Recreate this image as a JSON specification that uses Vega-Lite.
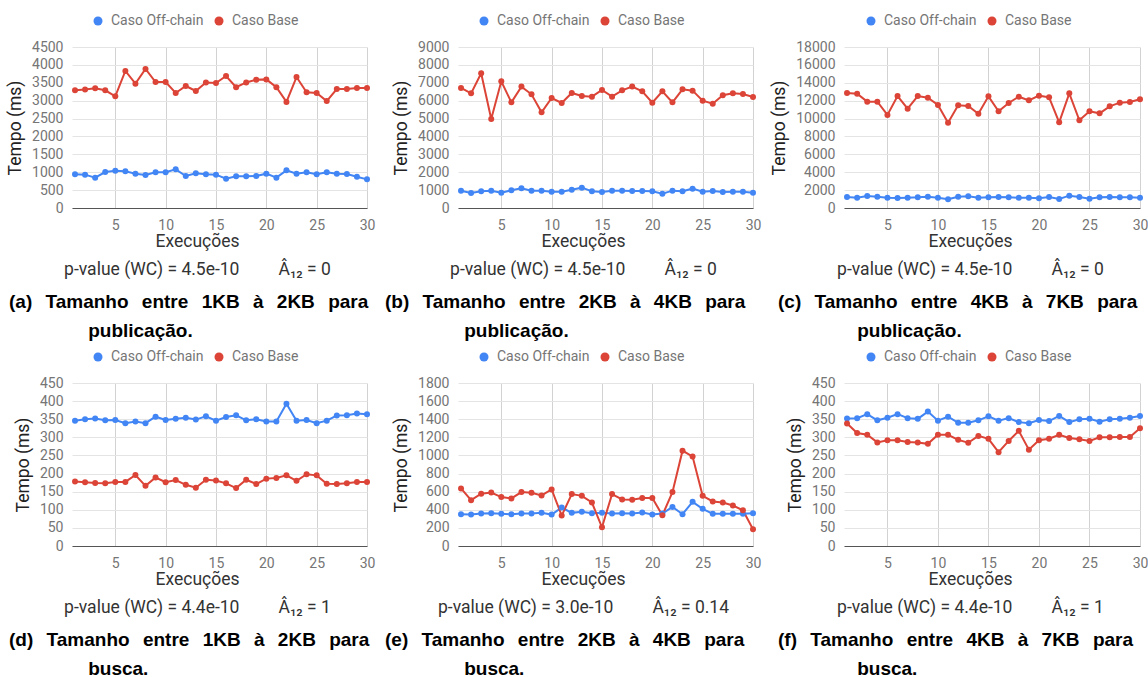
{
  "$schema": "https://vega.github.io/schema/vega-lite/v6.json",
  "background": "white",
  "padding": {"left": 6, "top": 14, "right": 0, "bottom": 0},
  "config": {
    "view": {"stroke": null},
    "font": "Roboto",
    "axis": {"labelFont": "Roboto", "labelFontSize": 14, "labelColor": "#757575", "titleFont": "Roboto", "titleFontSize": 17.5, "titleFontWeight": "normal", "titleColor": "#222222", "ticks": false, "domain": false, "gridColor": "#e4e4e4", "format": "d"},
    "axisX": {"domain": true, "domainColor": "#555555", "gridColor": "#d2d2d2", "labelPadding": 10, "titlePadding": 0, "labelFlush": false, "titleLineHeight": 28, "titleColor": "#333333"},
    "axisY": {"labelPadding": 9, "titlePadding": 7},
    "legend": {"orient": "none", "direction": "horizontal", "symbolType": "circle", "symbolSize": 81, "symbolStrokeWidth": 0, "labelFont": "Roboto", "labelFontSize": 14, "labelColor": "#757575", "columnPadding": 8, "labelOffset": 6},
    "title": {"orient": "bottom", "frame": "group", "anchor": "start", "font": "Liberation Sans", "fontWeight": "bold", "fontSize": 19, "color": "#000000", "lineHeight": 29, "offset": 15}
  },
  "datasets": {
    "a": [
      {"e":1,"Caso Off-chain":941,"Caso Base":3290},{"e":2,"Caso Off-chain":932,"Caso Base":3310},{"e":3,"Caso Off-chain":848,"Caso Base":3345},{"e":4,"Caso Off-chain":1006,"Caso Base":3290},{"e":5,"Caso Off-chain":1043,"Caso Base":3120},{"e":6,"Caso Off-chain":1025,"Caso Base":3830},{"e":7,"Caso Off-chain":960,"Caso Base":3475},{"e":8,"Caso Off-chain":922,"Caso Base":3885},{"e":9,"Caso Off-chain":997,"Caso Base":3520},{"e":10,"Caso Off-chain":997,"Caso Base":3520},
      {"e":11,"Caso Off-chain":1081,"Caso Base":3215},{"e":12,"Caso Off-chain":894,"Caso Base":3410},{"e":13,"Caso Off-chain":969,"Caso Base":3270},{"e":14,"Caso Off-chain":941,"Caso Base":3505},{"e":15,"Caso Off-chain":932,"Caso Base":3495},{"e":16,"Caso Off-chain":820,"Caso Base":3690},{"e":17,"Caso Off-chain":885,"Caso Base":3375},{"e":18,"Caso Off-chain":885,"Caso Base":3510},{"e":19,"Caso Off-chain":894,"Caso Base":3585},{"e":20,"Caso Off-chain":960,"Caso Base":3595},
      {"e":21,"Caso Off-chain":848,"Caso Base":3375},{"e":22,"Caso Off-chain":1053,"Caso Base":2965},{"e":23,"Caso Off-chain":960,"Caso Base":3660},{"e":24,"Caso Off-chain":997,"Caso Base":3235},{"e":25,"Caso Off-chain":941,"Caso Base":3215},{"e":26,"Caso Off-chain":997,"Caso Base":2990},{"e":27,"Caso Off-chain":960,"Caso Base":3325},{"e":28,"Caso Off-chain":950,"Caso Base":3325},{"e":29,"Caso Off-chain":876,"Caso Base":3355},{"e":30,"Caso Off-chain":801,"Caso Base":3355}
    ],
    "b": [
      {"e":1,"Caso Off-chain":969,"Caso Base":6710},{"e":2,"Caso Off-chain":839,"Caso Base":6410},{"e":3,"Caso Off-chain":932,"Caso Base":7530},{"e":4,"Caso Off-chain":969,"Caso Base":4975},{"e":5,"Caso Off-chain":857,"Caso Base":7080},{"e":6,"Caso Off-chain":988,"Caso Base":5905},{"e":7,"Caso Off-chain":1099,"Caso Base":6785},{"e":8,"Caso Off-chain":969,"Caso Base":6355},{"e":9,"Caso Off-chain":969,"Caso Base":5350},{"e":10,"Caso Off-chain":913,"Caso Base":6150},
      {"e":11,"Caso Off-chain":913,"Caso Base":5870},{"e":12,"Caso Off-chain":1025,"Caso Base":6430},{"e":13,"Caso Off-chain":1137,"Caso Base":6260},{"e":14,"Caso Off-chain":932,"Caso Base":6225},{"e":15,"Caso Off-chain":894,"Caso Base":6595},{"e":16,"Caso Off-chain":969,"Caso Base":6225},{"e":17,"Caso Off-chain":969,"Caso Base":6580},{"e":18,"Caso Off-chain":950,"Caso Base":6785},{"e":19,"Caso Off-chain":950,"Caso Base":6520},{"e":20,"Caso Off-chain":932,"Caso Base":5890},
      {"e":21,"Caso Off-chain":801,"Caso Base":6520},{"e":22,"Caso Off-chain":969,"Caso Base":5905},{"e":23,"Caso Off-chain":932,"Caso Base":6635},{"e":24,"Caso Off-chain":1081,"Caso Base":6560},{"e":25,"Caso Off-chain":913,"Caso Base":6000},{"e":26,"Caso Off-chain":950,"Caso Base":5830},{"e":27,"Caso Off-chain":894,"Caso Base":6300},{"e":28,"Caso Off-chain":913,"Caso Base":6410},{"e":29,"Caso Off-chain":913,"Caso Base":6375},{"e":30,"Caso Off-chain":857,"Caso Base":6205}
    ],
    "c": [
      {"e":1,"Caso Off-chain":1230,"Caso Base":12855},{"e":2,"Caso Off-chain":1155,"Caso Base":12785},{"e":3,"Caso Off-chain":1340,"Caso Base":11890},{"e":4,"Caso Off-chain":1265,"Caso Base":11890},{"e":5,"Caso Off-chain":1155,"Caso Base":10400},{"e":6,"Caso Off-chain":1120,"Caso Base":12520},{"e":7,"Caso Off-chain":1155,"Caso Base":11105},{"e":8,"Caso Off-chain":1195,"Caso Base":12520},{"e":9,"Caso Off-chain":1265,"Caso Base":12335},{"e":10,"Caso Off-chain":1155,"Caso Base":11515},
      {"e":11,"Caso Off-chain":970,"Caso Base":9540},{"e":12,"Caso Off-chain":1265,"Caso Base":11480},{"e":13,"Caso Off-chain":1305,"Caso Base":11405},{"e":14,"Caso Off-chain":1155,"Caso Base":10545},{"e":15,"Caso Off-chain":1195,"Caso Base":12485},{"e":16,"Caso Off-chain":1230,"Caso Base":10810},{"e":17,"Caso Off-chain":1195,"Caso Base":11740},{"e":18,"Caso Off-chain":1155,"Caso Base":12445},{"e":19,"Caso Off-chain":1155,"Caso Base":12035},{"e":20,"Caso Off-chain":1080,"Caso Base":12560},
      {"e":21,"Caso Off-chain":1230,"Caso Base":12375},{"e":22,"Caso Off-chain":1005,"Caso Base":9580},{"e":23,"Caso Off-chain":1380,"Caso Base":12820},{"e":24,"Caso Off-chain":1230,"Caso Base":9800},{"e":25,"Caso Off-chain":1045,"Caso Base":10810},{"e":26,"Caso Off-chain":1195,"Caso Base":10585},{"e":27,"Caso Off-chain":1230,"Caso Base":11365},{"e":28,"Caso Off-chain":1195,"Caso Base":11775},{"e":29,"Caso Off-chain":1195,"Caso Base":11850},{"e":30,"Caso Off-chain":1155,"Caso Base":12150}
    ],
    "d": [
      {"e":1,"Caso Off-chain":346,"Caso Base":178},{"e":2,"Caso Off-chain":350,"Caso Base":176},{"e":3,"Caso Off-chain":352,"Caso Base":174},{"e":4,"Caso Off-chain":347,"Caso Base":173},{"e":5,"Caso Off-chain":348,"Caso Base":177},{"e":6,"Caso Off-chain":339,"Caso Base":177},{"e":7,"Caso Off-chain":344,"Caso Base":196},{"e":8,"Caso Off-chain":339,"Caso Base":166},{"e":9,"Caso Off-chain":357,"Caso Base":189},{"e":10,"Caso Off-chain":348,"Caso Base":176},
      {"e":11,"Caso Off-chain":351,"Caso Base":182},{"e":12,"Caso Off-chain":354,"Caso Base":169},{"e":13,"Caso Off-chain":349,"Caso Base":161},{"e":14,"Caso Off-chain":358,"Caso Base":183},{"e":15,"Caso Off-chain":346,"Caso Base":181},{"e":16,"Caso Off-chain":356,"Caso Base":173},{"e":17,"Caso Off-chain":361,"Caso Base":160},{"e":18,"Caso Off-chain":347,"Caso Base":183},{"e":19,"Caso Off-chain":350,"Caso Base":171},{"e":20,"Caso Off-chain":344,"Caso Base":186},
      {"e":21,"Caso Off-chain":344,"Caso Base":188},{"e":22,"Caso Off-chain":393,"Caso Base":195},{"e":23,"Caso Off-chain":346,"Caso Base":180},{"e":24,"Caso Off-chain":348,"Caso Base":198},{"e":25,"Caso Off-chain":339,"Caso Base":195},{"e":26,"Caso Off-chain":346,"Caso Base":172},{"e":27,"Caso Off-chain":360,"Caso Base":171},{"e":28,"Caso Off-chain":361,"Caso Base":173},{"e":29,"Caso Off-chain":366,"Caso Base":177},{"e":30,"Caso Off-chain":364,"Caso Base":177}
    ],
    "e": [
      {"e":1,"Caso Off-chain":351,"Caso Base":636},{"e":2,"Caso Off-chain":347,"Caso Base":506},{"e":3,"Caso Off-chain":359,"Caso Base":577},{"e":4,"Caso Off-chain":362,"Caso Base":591},{"e":5,"Caso Off-chain":355,"Caso Base":540},{"e":6,"Caso Off-chain":351,"Caso Base":525},{"e":7,"Caso Off-chain":359,"Caso Base":595},{"e":8,"Caso Off-chain":359,"Caso Base":588},{"e":9,"Caso Off-chain":366,"Caso Base":558},{"e":10,"Caso Off-chain":347,"Caso Base":625},
      {"e":11,"Caso Off-chain":425,"Caso Base":336},{"e":12,"Caso Off-chain":366,"Caso Base":573},{"e":13,"Caso Off-chain":377,"Caso Base":554},{"e":14,"Caso Off-chain":362,"Caso Base":480},{"e":15,"Caso Off-chain":366,"Caso Base":207},{"e":16,"Caso Off-chain":359,"Caso Base":573},{"e":17,"Caso Off-chain":362,"Caso Base":514},{"e":18,"Caso Off-chain":359,"Caso Base":510},{"e":19,"Caso Off-chain":370,"Caso Base":529},{"e":20,"Caso Off-chain":347,"Caso Base":529},
      {"e":21,"Caso Off-chain":359,"Caso Base":340},{"e":22,"Caso Off-chain":432,"Caso Base":595},{"e":23,"Caso Off-chain":351,"Caso Base":1053},{"e":24,"Caso Off-chain":488,"Caso Base":987},{"e":25,"Caso Off-chain":410,"Caso Base":554},{"e":26,"Caso Off-chain":355,"Caso Base":492},{"e":27,"Caso Off-chain":355,"Caso Base":480},{"e":28,"Caso Off-chain":355,"Caso Base":447},{"e":29,"Caso Off-chain":355,"Caso Base":395},{"e":30,"Caso Off-chain":362,"Caso Base":185}
    ],
    "f": [
      {"e":1,"Caso Off-chain":352,"Caso Base":338},{"e":2,"Caso Off-chain":353,"Caso Base":312},{"e":3,"Caso Off-chain":364,"Caso Base":307},{"e":4,"Caso Off-chain":347,"Caso Base":286},{"e":5,"Caso Off-chain":354,"Caso Base":292},{"e":6,"Caso Off-chain":364,"Caso Base":292},{"e":7,"Caso Off-chain":353,"Caso Base":287},{"e":8,"Caso Off-chain":351,"Caso Base":286},{"e":9,"Caso Off-chain":371,"Caso Base":282},{"e":10,"Caso Off-chain":346,"Caso Base":307},
      {"e":11,"Caso Off-chain":357,"Caso Base":307},{"e":12,"Caso Off-chain":340,"Caso Base":293},{"e":13,"Caso Off-chain":340,"Caso Base":285},{"e":14,"Caso Off-chain":347,"Caso Base":304},{"e":15,"Caso Off-chain":358,"Caso Base":296},{"e":16,"Caso Off-chain":346,"Caso Base":259},{"e":17,"Caso Off-chain":353,"Caso Base":290},{"e":18,"Caso Off-chain":342,"Caso Base":318},{"e":19,"Caso Off-chain":339,"Caso Base":266},{"e":20,"Caso Off-chain":348,"Caso Base":292},
      {"e":21,"Caso Off-chain":345,"Caso Base":296},{"e":22,"Caso Off-chain":359,"Caso Base":307},{"e":23,"Caso Off-chain":342,"Caso Base":298},{"e":24,"Caso Off-chain":350,"Caso Base":295},{"e":25,"Caso Off-chain":351,"Caso Base":290},{"e":26,"Caso Off-chain":343,"Caso Base":300},{"e":27,"Caso Off-chain":350,"Caso Base":300},{"e":28,"Caso Off-chain":351,"Caso Base":301},{"e":29,"Caso Off-chain":354,"Caso Base":301},{"e":30,"Caso Off-chain":359,"Caso Base":325}
    ]
  },
  "resolve": {"scale": {"color": "independent", "stroke": "independent"}, "legend": {"color": "independent"}},
  "columns": 3,
  "bounds": "flush",
  "spacing": {"row": 175, "column": 91},
  "concat": [
    {
      "width": 295, "height": 161,
      "data": {"name": "a"},
      "transform": [{"fold": ["Caso Off-chain", "Caso Base"], "as": ["serie", "tempo"]}],
      "title": {"text": ["(a)\u2002\u2009Tamanho\u2002\u2009entre\u2002\u20091KB\u2002\u2009\u00e0\u2002\u20092KB\u2002\u2009para", "\u200b\u00a0\u00a0\u00a0\u00a0\u00a0\u00a0\u00a0\u00a0\u00a0\u00a0\u00a0\u00a0\u00a0\u00a0\u00a0publica\u00e7\u00e3o."], "dx": -63},
      "encoding": {
        "x": {"field": "e", "type": "quantitative", "scale": {"domain": [0.7, 30], "nice": false, "zero": false}, "axis": {"values": [5, 10, 15, 20, 25, 30], "title": ["Execu\u00e7\u00f5es", "p-value (WC) = 4.5e-10\u00a0\u00a0\u00a0\u00a0\u00a0\u00a0\u00a0\u00a0\u00a0\u00c2\u2081\u2082 = 0"], "titleX": 125}},
        "y": {"field": "tempo", "type": "quantitative", "scale": {"domain": [0, 4500], "nice": false}, "axis": {"values": [0, 500, 1000, 1500, 2000, 2500, 3000, 3500, 4000, 4500], "title": "Tempo (ms)"}}
      },
      "layer": [
        {"mark": {"type": "line", "strokeWidth": 2}, "encoding": {"stroke": {"field": "serie", "type": "nominal", "scale": {"domain": ["Caso Base", "Caso Off-chain"], "range": ["#DB4437", "#4285F4"]}, "legend": null}}},
        {"mark": {"type": "point", "filled": true, "size": 36, "opacity": 1}, "encoding": {"color": {"field": "serie", "type": "nominal", "scale": {"domain": ["Caso Off-chain", "Caso Base"], "range": ["#4285F4", "#DB4437"]}, "legend": {"title": null, "legendX": 19, "legendY": -33}}}}
      ]
    },
    {
      "width": 295, "height": 161,
      "data": {"name": "b"},
      "transform": [{"fold": ["Caso Off-chain", "Caso Base"], "as": ["serie", "tempo"]}],
      "title": {"text": ["(b)\u2002\u2009Tamanho\u2002\u2009entre\u2002\u20092KB\u2002\u2009\u00e0\u2002\u20094KB\u2002\u2009para", "\u200b\u00a0\u00a0\u00a0\u00a0\u00a0\u00a0\u00a0\u00a0\u00a0\u00a0\u00a0\u00a0\u00a0\u00a0\u00a0publica\u00e7\u00e3o."], "dx": -73},
      "encoding": {
        "x": {"field": "e", "type": "quantitative", "scale": {"domain": [0.7, 30], "nice": false, "zero": false}, "axis": {"values": [5, 10, 15, 20, 25, 30], "title": ["Execu\u00e7\u00f5es", "p-value (WC) = 4.5e-10\u00a0\u00a0\u00a0\u00a0\u00a0\u00a0\u00a0\u00a0\u00a0\u00c2\u2081\u2082 = 0"], "titleX": 125}},
        "y": {"field": "tempo", "type": "quantitative", "scale": {"domain": [0, 9000], "nice": false}, "axis": {"values": [0, 1000, 2000, 3000, 4000, 5000, 6000, 7000, 8000, 9000], "title": "Tempo (ms)"}}
      },
      "layer": [
        {"mark": {"type": "line", "strokeWidth": 2}, "encoding": {"stroke": {"field": "serie", "type": "nominal", "scale": {"domain": ["Caso Base", "Caso Off-chain"], "range": ["#DB4437", "#4285F4"]}, "legend": null}}},
        {"mark": {"type": "point", "filled": true, "size": 36, "opacity": 1}, "encoding": {"color": {"field": "serie", "type": "nominal", "scale": {"domain": ["Caso Off-chain", "Caso Base"], "range": ["#4285F4", "#DB4437"]}, "legend": {"title": null, "legendX": 19, "legendY": -33}}}}
      ]
    },
    {
      "width": 296, "height": 161,
      "data": {"name": "c"},
      "transform": [{"fold": ["Caso Off-chain", "Caso Base"], "as": ["serie", "tempo"]}],
      "title": {"text": ["(c)\u2002\u2009Tamanho\u2002\u2009entre\u2002\u20094KB\u2002\u2009\u00e0\u2002\u20097KB\u2002\u2009para", "\u200b\u00a0\u00a0\u00a0\u00a0\u00a0\u00a0\u00a0\u00a0\u00a0\u00a0\u00a0\u00a0\u00a0\u00a0\u00a0publica\u00e7\u00e3o."], "dx": -66},
      "encoding": {
        "x": {"field": "e", "type": "quantitative", "scale": {"domain": [0.7, 30], "nice": false, "zero": false}, "axis": {"values": [5, 10, 15, 20, 25, 30], "title": ["Execu\u00e7\u00f5es", "p-value (WC) = 4.5e-10\u00a0\u00a0\u00a0\u00a0\u00a0\u00a0\u00a0\u00a0\u00a0\u00c2\u2081\u2082 = 0"], "titleX": 126}},
        "y": {"field": "tempo", "type": "quantitative", "scale": {"domain": [0, 18000], "nice": false}, "axis": {"values": [0, 2000, 4000, 6000, 8000, 10000, 12000, 14000, 16000, 18000], "title": "Tempo (ms)"}}
      },
      "layer": [
        {"mark": {"type": "line", "strokeWidth": 2}, "encoding": {"stroke": {"field": "serie", "type": "nominal", "scale": {"domain": ["Caso Base", "Caso Off-chain"], "range": ["#DB4437", "#4285F4"]}, "legend": null}}},
        {"mark": {"type": "point", "filled": true, "size": 36, "opacity": 1}, "encoding": {"color": {"field": "serie", "type": "nominal", "scale": {"domain": ["Caso Off-chain", "Caso Base"], "range": ["#4285F4", "#DB4437"]}, "legend": {"title": null, "legendX": 20, "legendY": -33}}}}
      ]
    },
    {
      "width": 295, "height": 163,
      "data": {"name": "d"},
      "transform": [{"fold": ["Caso Off-chain", "Caso Base"], "as": ["serie", "tempo"]}],
      "title": {"text": ["(d)\u2002\u2009Tamanho\u2002\u2009entre\u2002\u20091KB\u2002\u2009\u00e0\u2002\u20092KB\u2002\u2009para", "\u200b\u00a0\u00a0\u00a0\u00a0\u00a0\u00a0\u00a0\u00a0\u00a0\u00a0\u00a0\u00a0\u00a0\u00a0\u00a0busca."], "dx": -63},
      "encoding": {
        "x": {"field": "e", "type": "quantitative", "scale": {"domain": [0.7, 30], "nice": false, "zero": false}, "axis": {"values": [5, 10, 15, 20, 25, 30], "title": ["Execu\u00e7\u00f5es", "p-value (WC) = 4.4e-10\u00a0\u00a0\u00a0\u00a0\u00a0\u00a0\u00a0\u00a0\u00a0\u00c2\u2081\u2082 = 1"], "titleX": 125}},
        "y": {"field": "tempo", "type": "quantitative", "scale": {"domain": [0, 450], "nice": false}, "axis": {"values": [0, 50, 100, 150, 200, 250, 300, 350, 400, 450], "title": "Tempo (ms)"}}
      },
      "layer": [
        {"mark": {"type": "line", "strokeWidth": 2}, "encoding": {"stroke": {"field": "serie", "type": "nominal", "scale": {"domain": ["Caso Base", "Caso Off-chain"], "range": ["#DB4437", "#4285F4"]}, "legend": null}}},
        {"mark": {"type": "point", "filled": true, "size": 36, "opacity": 1}, "encoding": {"color": {"field": "serie", "type": "nominal", "scale": {"domain": ["Caso Off-chain", "Caso Base"], "range": ["#4285F4", "#DB4437"]}, "legend": {"title": null, "legendX": 19, "legendY": -33}}}}
      ]
    },
    {
      "width": 295, "height": 163,
      "data": {"name": "e"},
      "transform": [{"fold": ["Caso Off-chain", "Caso Base"], "as": ["serie", "tempo"]}],
      "title": {"text": ["(e)\u2002\u2009Tamanho\u2002\u2009entre\u2002\u20092KB\u2002\u2009\u00e0\u2002\u20094KB\u2002\u2009para", "\u200b\u00a0\u00a0\u00a0\u00a0\u00a0\u00a0\u00a0\u00a0\u00a0\u00a0\u00a0\u00a0\u00a0\u00a0\u00a0busca."], "dx": -73},
      "encoding": {
        "x": {"field": "e", "type": "quantitative", "scale": {"domain": [0.7, 30], "nice": false, "zero": false}, "axis": {"values": [5, 10, 15, 20, 25, 30], "title": ["Execu\u00e7\u00f5es", "p-value (WC) = 3.0e-10\u00a0\u00a0\u00a0\u00a0\u00a0\u00a0\u00a0\u00a0\u00a0\u00c2\u2081\u2082 = 0.14"], "titleX": 125}},
        "y": {"field": "tempo", "type": "quantitative", "scale": {"domain": [0, 1800], "nice": false}, "axis": {"values": [0, 200, 400, 600, 800, 1000, 1200, 1400, 1600, 1800], "title": "Tempo (ms)"}}
      },
      "layer": [
        {"mark": {"type": "line", "strokeWidth": 2}, "encoding": {"stroke": {"field": "serie", "type": "nominal", "scale": {"domain": ["Caso Base", "Caso Off-chain"], "range": ["#DB4437", "#4285F4"]}, "legend": null}}},
        {"mark": {"type": "point", "filled": true, "size": 36, "opacity": 1}, "encoding": {"color": {"field": "serie", "type": "nominal", "scale": {"domain": ["Caso Off-chain", "Caso Base"], "range": ["#4285F4", "#DB4437"]}, "legend": {"title": null, "legendX": 19, "legendY": -33}}}}
      ]
    },
    {
      "width": 296, "height": 163,
      "data": {"name": "f"},
      "transform": [{"fold": ["Caso Off-chain", "Caso Base"], "as": ["serie", "tempo"]}],
      "title": {"text": ["(f)\u2002\u2009Tamanho\u2002\u2009entre\u2002\u20094KB\u2002\u2009\u00e0\u2002\u20097KB\u2002\u2009para", "\u200b\u00a0\u00a0\u00a0\u00a0\u00a0\u00a0\u00a0\u00a0\u00a0\u00a0\u00a0\u00a0\u00a0\u00a0\u00a0busca."], "dx": -66},
      "encoding": {
        "x": {"field": "e", "type": "quantitative", "scale": {"domain": [0.7, 30], "nice": false, "zero": false}, "axis": {"values": [5, 10, 15, 20, 25, 30], "title": ["Execu\u00e7\u00f5es", "p-value (WC) = 4.4e-10\u00a0\u00a0\u00a0\u00a0\u00a0\u00a0\u00a0\u00a0\u00a0\u00c2\u2081\u2082 = 1"], "titleX": 126}},
        "y": {"field": "tempo", "type": "quantitative", "scale": {"domain": [0, 450], "nice": false}, "axis": {"values": [0, 50, 100, 150, 200, 250, 300, 350, 400, 450], "title": "Tempo (ms)"}}
      },
      "layer": [
        {"mark": {"type": "line", "strokeWidth": 2}, "encoding": {"stroke": {"field": "serie", "type": "nominal", "scale": {"domain": ["Caso Base", "Caso Off-chain"], "range": ["#DB4437", "#4285F4"]}, "legend": null}}},
        {"mark": {"type": "point", "filled": true, "size": 36, "opacity": 1}, "encoding": {"color": {"field": "serie", "type": "nominal", "scale": {"domain": ["Caso Off-chain", "Caso Base"], "range": ["#4285F4", "#DB4437"]}, "legend": {"title": null, "legendX": 20, "legendY": -33}}}}
      ]
    }
  ]
}
